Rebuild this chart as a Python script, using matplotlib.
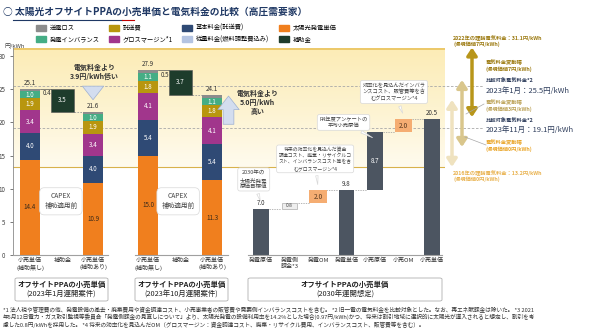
import numpy as np
import matplotlib
matplotlib.use('Agg')
import matplotlib.pyplot as plt
from matplotlib.patches import Patch, FancyBboxPatch
from matplotlib.lines import Line2D
from matplotlib.colors import LinearSegmentedColormap

plt.rcParams['font.family'] = ['Noto Sans CJK JP', 'DejaVu Sans']

# ---- data ----
components = ['太陽光発電単価', '基本料金(託送費)', 'グロスマージン*1', '託送費', '発電インバランス', '送電ロス']
g1_nosub = [14.4, 4.0, 3.4, 1.9, 1.0, 0.4]
g1_sub = [10.9, 4.0, 3.4, 1.9, 1.0, 0.4]
g1_subsidy = 3.5
g2_nosub = [15.0, 5.4, 4.1, 1.8, 1.1, 0.5]
g2_sub = [11.3, 5.4, 4.1, 1.8, 1.1, 0.5]
g2_subsidy = 3.7
top_labels = ['25.1', '21.6', '27.9', '24.1']

g3_labels = ['発電原価', '発電側\n課金*3', '発電OM', '発電単価', '小売原価', '小売OM', '小売単価']
g3_values = [7.0, 0.8, 2.0, 9.8, 8.7, 2.0, 20.5]
g3_kind = ['total', 'step', 'step', 'total', 'step', 'step', 'total']

tariff_2022 = 31.1
tariff_2016 = 13.2
tariff_jan23 = 25.5
tariff_nov23 = 19.1

group_labels = ['小売単価\n(補助無し)', '補助金', '小売単価\n(補助あり)']

# ---- style ----
colors = {
    '送電ロス': '#8c8c8c',
    '託送費': '#b8960e',
    '基本料金(託送費)': '#2f4a75',
    '太陽光発電単価': '#f07f1e',
    '発電インバランス': '#45ad85',
    'グロスマージン*1': '#a1368c',
    '従量料金(燃料調整費込み)': '#b4c4e2',
    '補助金': '#1e3c2c',
}
dark_bar = '#4c5561'
om_color = '#f5ad72'

W, H = 590, 329
fig = plt.figure(figsize=(W / 100, H / 100), dpi=100)
ax = fig.add_axes([13 / W, 1 - 255 / H, 432 / W, 207.5 / H])
ax.set_ylim(0, 31.3)
xmin, xmax = -0.54, 13.17
ax.set_xlim(xmin, xmax)

def fx(px):
    return px / W

def fy(py):
    return 1 - py / H

# background band
cmap = LinearSegmentedColormap.from_list('band', ['#fffbee', '#fdf3d0', '#fcecb6'])
grad = np.linspace(0, 1, 100).reshape(-1, 1)
ax.imshow(grad, extent=[xmin, xmax, tariff_2016, tariff_2022], origin='lower',
          aspect='auto', cmap=cmap, zorder=0)
ax.axhline(tariff_2022, color='#ebc664', lw=1.3, zorder=1)
ax.axhline(tariff_2016, color='#d8b24c', lw=0.8, zorder=1)
yt = ax.get_yaxis_transform()
for v in [tariff_jan23, tariff_nov23]:
    ax.plot([0, 1.088], [v, v], transform=yt, color='#a8a8a8', lw=0.6,
            dashes=(3, 2), clip_on=False, zorder=1)

# positions
pos1 = [0, 1.03, 2.0]
pos2 = [3.75, 4.78, 5.78]
pos3 = list(7.33 + 0.905 * np.arange(7))

def stack(x, vals, width):
    bottom = 0
    for name, v in zip(components, vals):
        ax.bar(x, v, width, bottom=bottom, color=colors[name], zorder=3)
        if name != '送電ロス':
            tc = '#3a2a1a' if name == '太陽光発電単価' else 'white'
            ax.text(x, bottom + v / 2, f'{v:.1f}', ha='center', va='center',
                    fontsize=4.5, color=tc, zorder=4)
        bottom += v
    return bottom

bw = 0.63
tops = []
for (p, nosub, sub, subsidy) in [(pos1, g1_nosub, g1_sub, g1_subsidy), (pos2, g2_nosub, g2_sub, g2_subsidy)]:
    t1 = stack(p[0], nosub, bw)
    ax.bar(p[1], subsidy, 0.73, bottom=t1 - subsidy, color=colors['補助金'],
           edgecolor='#555555', lw=0.4, zorder=3)
    ax.text(p[1], t1 - subsidy / 2, f'{subsidy:.1f}', ha='center', va='center',
            fontsize=4.5, color='white', zorder=4)
    t3 = stack(p[2], sub, bw)
    ax.text(p[0] + bw / 2 + 0.08, t1 - 0.7, f'{nosub[-1]:.1f}', ha='left',
            va='center', fontsize=4.5, color='#333333', zorder=4)
    ax.plot([p[0] + bw / 2, p[1] - 0.365], [t1, t1], color='#555555', lw=0.5, zorder=2)
    ax.plot([p[1] + 0.365, p[2] - bw / 2], [t1 - subsidy] * 2, color='#9a9a9a',
            lw=0.6, dashes=(2, 1.5), zorder=2)
    tops += [(p[0], t1), (p[2], t3)]

for (x, t), lab in zip(tops, top_labels):
    ax.text(x, t + 0.3, lab, ha='center', va='bottom', fontsize=4.5, color='#333333', zorder=4)

# group 3 waterfall
level = 0
prev_top = None
prev_x = None
for i, (x, v, k) in enumerate(zip(pos3, g3_values, g3_kind)):
    if k == 'total':
        b = 0
        level = v
    else:
        b = level
        level = b + v
    if i == 1:
        ax.bar(x, v, 0.5, bottom=b, color='#eeeeee', edgecolor='#9a9a9a', lw=0.4, zorder=3)
        ax.text(x, b + v / 2, f'{v:.1f}', ha='center', va='center', fontsize=3.5, color='#444444', zorder=4)
    elif k == 'step' and v <= 2.0:
        ax.bar(x, v, 0.55, bottom=b, color=om_color, zorder=3)
        ax.text(x, b + v / 2, f'{v:.1f}', ha='center', va='center', fontsize=4.8, color='#5a3a20', zorder=4)
    else:
        ax.bar(x, v, 0.5, bottom=b, color=dark_bar, zorder=3)
        if k == 'total':
            ax.text(x, b + v + 0.3, f'{v:.1f}', ha='center', va='bottom', fontsize=4.5, color='#333333', zorder=4)
        else:
            ax.text(x, b + v / 2, f'{v:.1f}', ha='center', va='center', fontsize=4.5, color='white', zorder=4)
    if prev_top is not None:
        ax.plot([prev_x + 0.26, x - 0.26], [prev_top, prev_top],
                color='#9a9a9a', lw=0.5, dashes=(2, 1.5), zorder=2)
    prev_top = level
    prev_x = x

# axes styling
ax.set_xticks(pos1 + pos2 + pos3, group_labels + group_labels + g3_labels)
ax.tick_params(axis='x', length=0, labelsize=4.3, pad=2, colors='#333333')
ax.tick_params(axis='y', length=2, labelsize=4.5, colors='#444444', width=0.5)
ax.set_yticks(range(0, 31, 5))
for s in ['top', 'right', 'bottom']:
    ax.spines[s].set_visible(False)
ax.spines['left'].set_color('#8a8a8a')
ax.spines['left'].set_linewidth(0.6)
for a, b in [(xmin, 2.48), (3.33, 6.29), (6.92, 13.08)]:
    ax.plot([a, b], [0, 0], color='#a0a0a0', lw=0.8, clip_on=False, zorder=5)
fig.text(fx(4), fy(46), '円/kWh', fontsize=4.3, color='#444444', va='center')

# light blue block arrows
arr = dict(arrowstyle='simple,head_width=1.1,head_length=0.7,tail_width=0.55',
           fc='#d3ddef', ec='#9db0d2', lw=0.5, mutation_scale=14)
ax.annotate('', xy=(pos1[2], 23.0), xytext=(pos1[2], 25.6), arrowprops=arr, zorder=4)
ax.annotate('', xy=(pos2[2] + 0.52, 24.4), xytext=(pos2[2] + 0.52, 19.3), arrowprops=arr, zorder=4)
ax.text(2.05, 27.6, '電気料金より\n3.9円/kWh低い', ha='center', va='center', fontsize=5,
        color='#333333', fontweight='bold', linespacing=1.3, zorder=4)
ax.text(7.22, 23.0, '電気料金より\n5.0円/kWh\n高い', ha='center', va='center', fontsize=5,
        color='#333333', fontweight='bold', linespacing=1.3, zorder=4)

# callouts
def callout(x, y, s, tx, ty, fs=4.3, pad=0.5):
    ax.annotate(s, xy=(tx, ty), xytext=(x, y), ha='center', va='center', fontsize=fs,
                color='#444444', linespacing=1.3, zorder=6,
                bbox=dict(boxstyle=f'round,pad={pad}', fc='white', ec='#d8d8d8', lw=0.5),
                arrowprops=dict(arrowstyle='wedge,tail_width=0.5', fc='white', ec='#d8d8d8', lw=0.5))

callout(0.98, 8.1, 'CAPEX\n補助適用前', 0.35, 8.6, fs=4.8, pad=0.7)
callout(4.7, 8.1, 'CAPEX\n補助適用前', 4.08, 8.6, fs=4.8, pad=0.7)
callout(7.1, 11.4, '2030年の\n太陽光発電\n原価目標値', 7.33, 7.8, fs=4.0, pad=0.4)
callout(9.05, 14.5, '将来の効率化を見込んだ資金\n調達コスト、廃棄・リサイクルコ\nスト、インバランスコスト等を含\nむグロスマージン*4', 9.14, 10.2, fs=3.5, pad=0.4)
callout(9.95, 20.0, 'R4年度アンケートの\n平均小売原価', 10.95, 17.5, fs=3.8, pad=0.4)
callout(11.55, 24.6, '効率化を見込んだインバラ\nンスコスト、販管費等を含\nむグロスマージン*4', 11.86, 21.0, fs=3.8, pad=0.4)

# right side range arrows
def rng(xpx, lo, hi, c):
    xf = (xpx - 13) / 432
    ax.annotate('', xy=(xf, hi), xytext=(xf, lo), xycoords=yt, textcoords=yt,
                arrowprops=dict(arrowstyle='<|-|>,head_width=0.3,head_length=0.45',
                                color=c, lw=2.5, shrinkA=0, shrinkB=0), annotation_clip=False)

rng(452, 13.3, 23.4, '#efe2bf')
rng(462, 16.3, 26.4, '#d9c68c')
rng(472, 20.8, 31.3, '#b8961a')

for (x0, y0, x1, y1) in [(484, 104, 466, 114), (486, 145, 465, 137)]:
    fig.add_artist(Line2D([fx(x0), fx(x1)], [fy(y0), fy(y1)], color='#a8a8a8', lw=0.5))

small = 3.8
fig.text(fx(453), fy(41), '2022年の理論電気料金：31.1円/kWh\n(環境価値7円/kWh)', fontsize=small,
         color='#9c7a10', va='center', fontweight='bold', linespacing=1.2)
fig.text(fx(486), fy(66), '電気料金変動幅\n(環境価値7円/kWh)', fontsize=small, color='#9c7a10',
         va='center', fontweight='bold', linespacing=1.2)
fig.text(fx(486), fy(80), '比較対象電気料金*2', fontsize=small, color='#2c3b5a', va='center', fontweight='bold')
fig.text(fx(486), fy(91), '2023年1月：25.5円/kWh', fontsize=5.4, color='#2c3b5a', va='center')
fig.text(fx(486), fy(106), '電気料金変動幅\n(環境価値3円/kWh)', fontsize=small, color='#bca257',
         va='center', fontweight='bold', linespacing=1.2)
fig.text(fx(486), fy(120), '比較対象電気料金*2', fontsize=small, color='#2c3b5a', va='center', fontweight='bold')
fig.text(fx(486), fy(130), '2023年11月：19.1円/kWh', fontsize=5.4, color='#2c3b5a', va='center')
fig.text(fx(486), fy(146), '電気料金変動幅\n(環境価値0円/kWh)', fontsize=small, color='#eaa62a',
         va='center', fontweight='bold', linespacing=1.2)
fig.text(fx(453), fy(176), '2016年の理論電気料金：13.2円/kWh\n(環境価値0円/kWh)', fontsize=small,
         color='#e9b24e', va='center', fontweight='bold', linespacing=1.2)

# title
fig.text(fx(3), fy(12), '○ 太陽光オフサイトPPAの小売単価と電気料金の比較（高圧需要家）', fontsize=7.0,
         fontweight='bold', color='#1f3864', va='center')
fig.add_artist(Line2D([fx(13), fx(122)], [fy(20), fy(20)], color='#1f3864', lw=0.8))
fig.add_artist(Line2D([fx(122), fx(134)], [fy(20), fy(20)], color='#c00000', lw=0.8))

# legend
leg_order = ['送電ロス', '発電インバランス', '託送費', 'グロスマージン*1',
             '基本料金(託送費)', '従量料金(燃料調整費込み)', '太陽光発電単価', '補助金']
handles = [Patch(color=colors[n], label=n) for n in leg_order]
fig.legend(handles=handles, loc='upper left', bbox_to_anchor=(fx(36), fy(24)), ncol=4,
           fontsize=4.5, frameon=False, handlelength=1.6, handleheight=1.1,
           columnspacing=1.5, handletextpad=0.6, labelspacing=0.5, borderaxespad=0,
           borderpad=0)

# group boxes
boxes = [(15, 108, '(2023年1月運開案件)'), (135, 228, '(2023年10月運開案件)'), (248, 442, '(2030年運開想定)')]
for a, b, sub in boxes:
    fig.add_artist(FancyBboxPatch((fx(a), fy(301)), fx(b - a), 23 / H,
                                  boxstyle='round,pad=0,rounding_size=0.004',
                                  fc='white', ec='#b0b0b0', lw=0.6))
    fig.text(fx((a + b) / 2), fy(284), 'オフサイトPPAの小売単価', ha='center', va='center',
             fontsize=5.3, fontweight='bold', color='#222222')
    fig.text(fx((a + b) / 2), fy(295), sub, ha='center', va='center', fontsize=5.3, color='#222222')

# footnotes
notes = [
    '*1 法人税や管理費の他、発電設備の撤去・廃棄費用や資金調達コスト、小売事業者の販管費や需要側インバランスコストを含む。 *2 旧一電の電気料金を比較対象とした。なお、再エネ賦課金は除いた。 *3 2021',
    '年5月12日電力・ガス取引監視等委員会「発電側課金の見直しについて」より、太陽光発電の設備利用率を14.2%とした場合(0.97円/kWh)かつ、将来は割引地域に選択的に太陽光が導入されると想定し、割引を考',
    '慮した0.8円/kWhを採用した。 *4 将来の効率化を見込んだOM（グロスマージン：資金調達コスト、廃棄・リサイクル費用、インバランスコスト、販管費等を含む）。',
]
for i, n in enumerate(notes):
    fig.text(fx(3), fy(309 + i * 8), n, fontsize=4.1, color='#333333', va='center')

fig.savefig('out.png', dpi=100)
